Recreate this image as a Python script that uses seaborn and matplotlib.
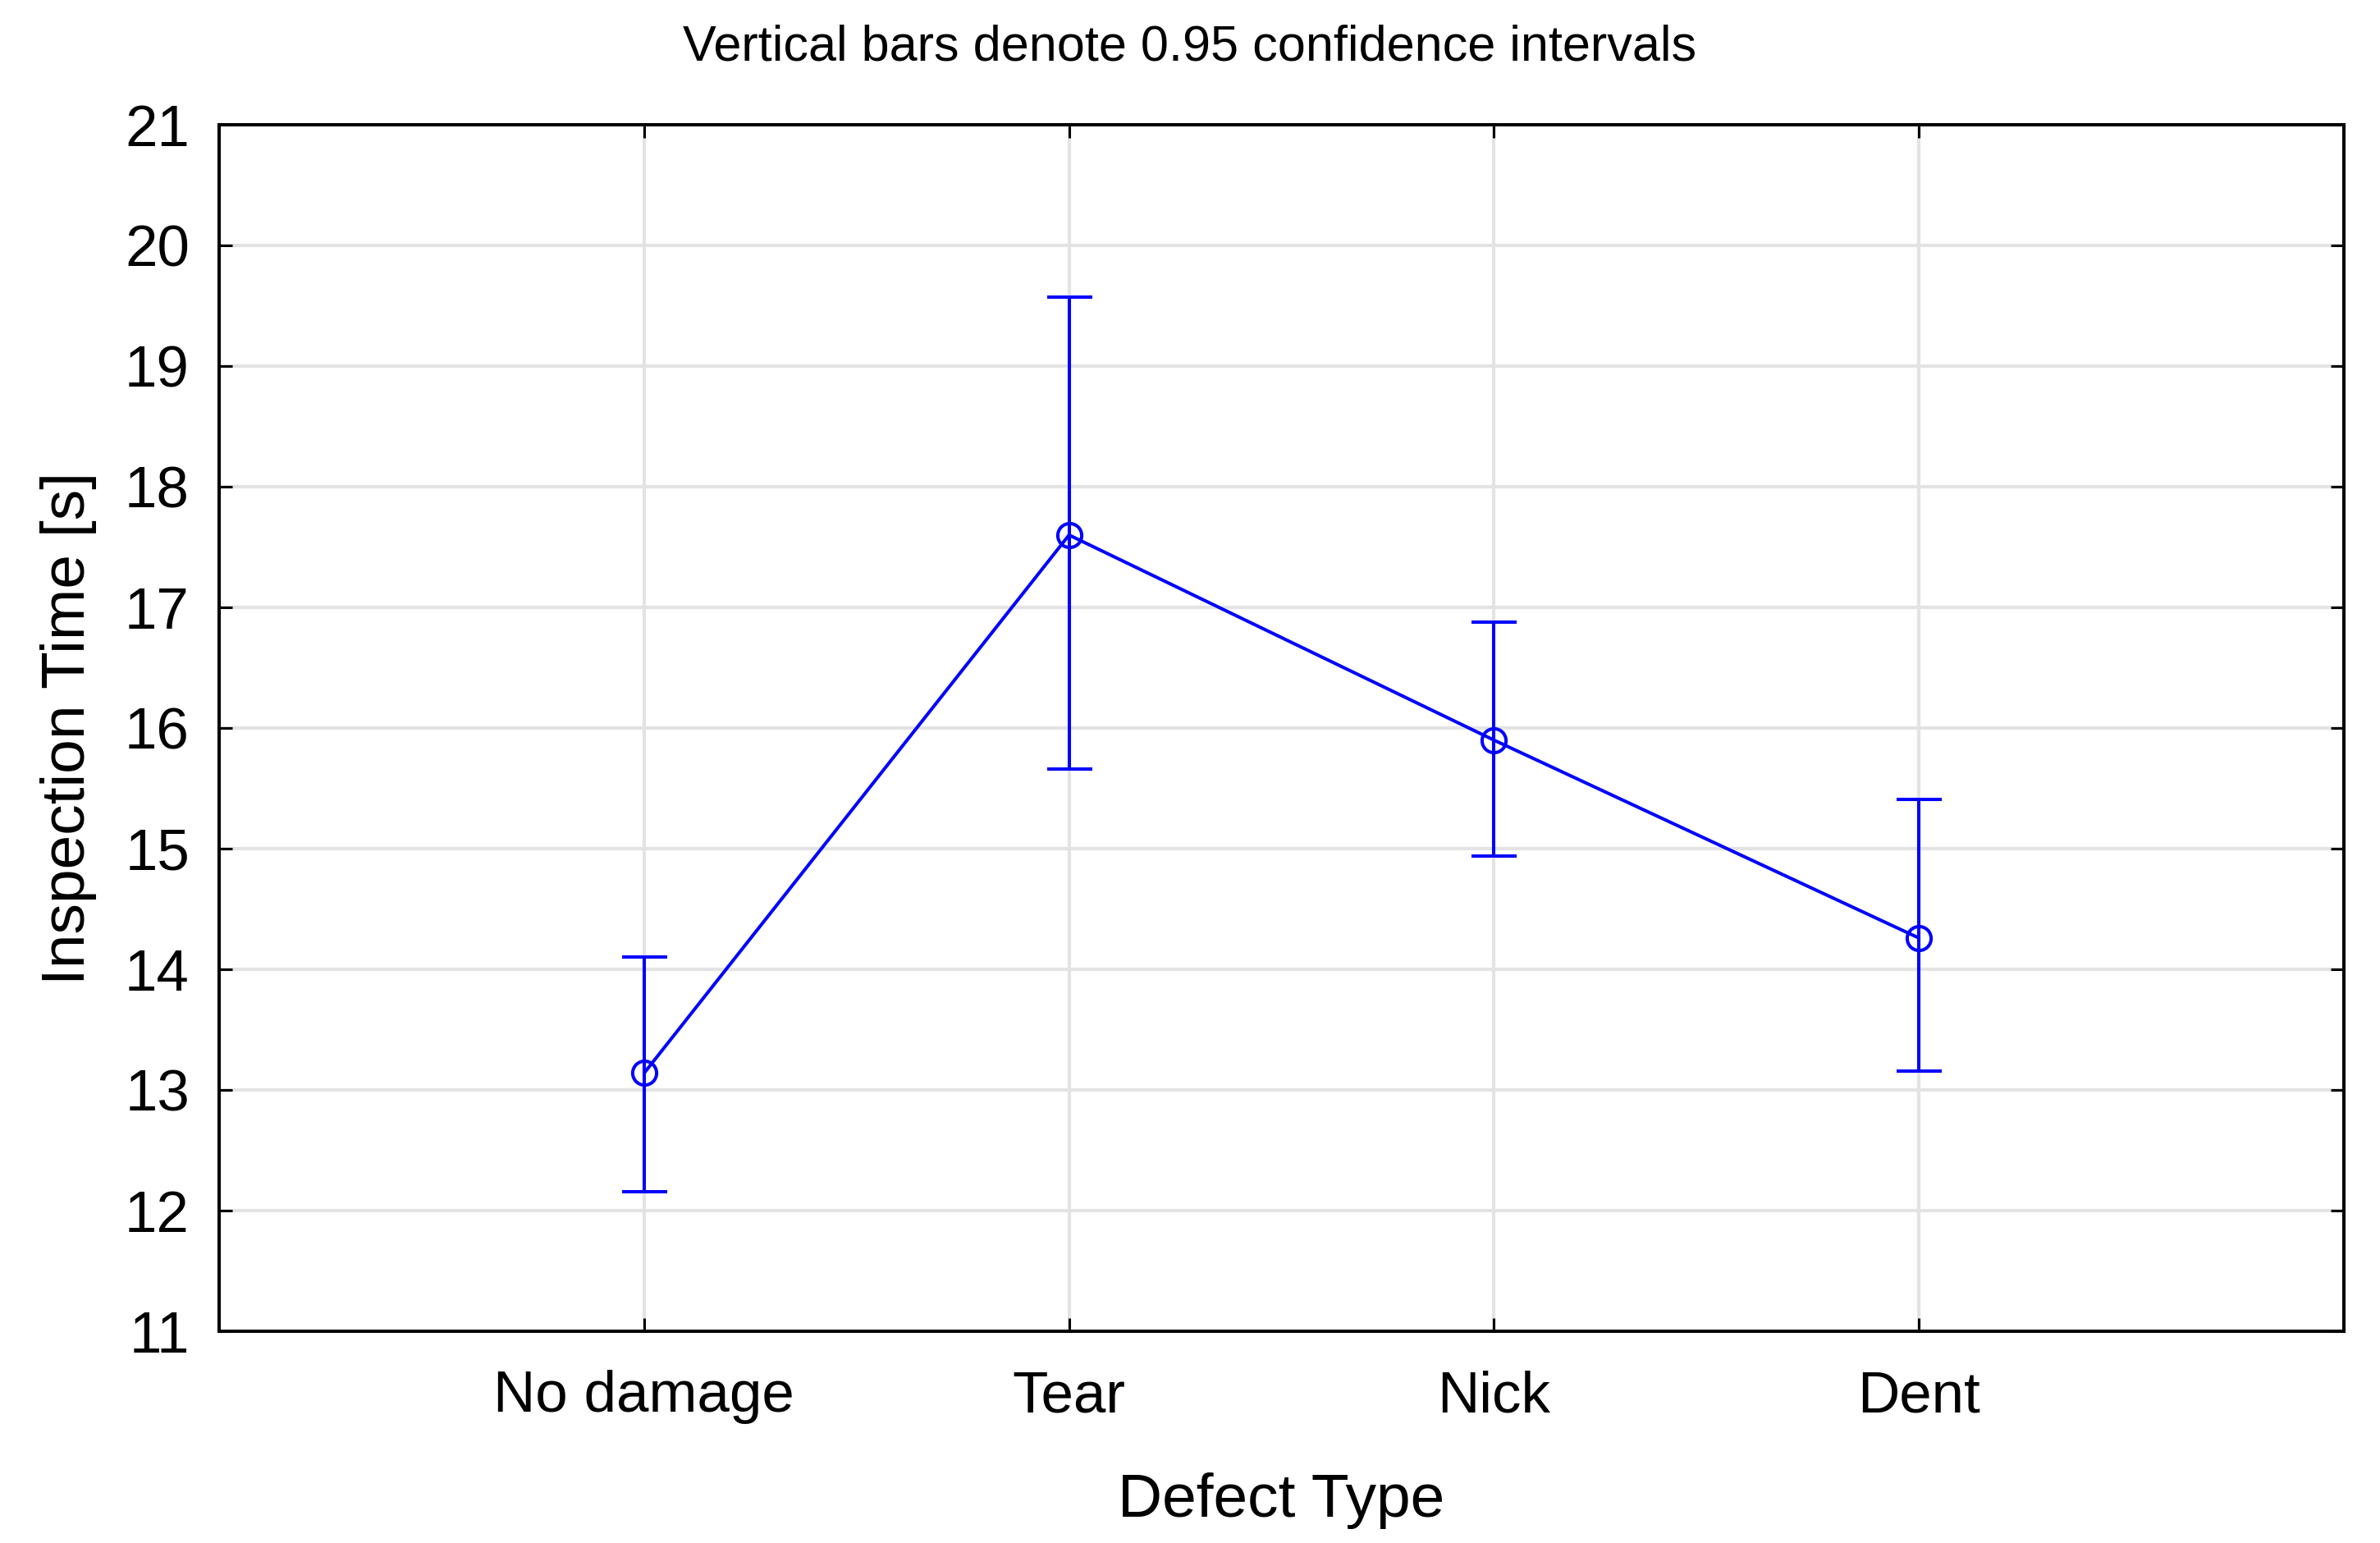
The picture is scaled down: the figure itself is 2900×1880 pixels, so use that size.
import numpy as np
import pandas as pd
import matplotlib
matplotlib.use("Agg")
import matplotlib.pyplot as plt
import seaborn as sns

# ---- data ----
categories = ["No damage", "Tear", "Nick", "Dent"]
means = [13.14, 17.60, 15.90, 14.26]
ci_lower = [12.16, 15.66, 14.94, 13.16]
ci_upper = [14.10, 19.57, 16.88, 15.41]
y_ticks = list(range(11, 22))

title_text = "Vertical bars denote 0.95 confidence intervals"
x_label = "Defect Type"
y_label = "Inspection Time [s]"

sns.set_style("white")
plt.rcParams["font.family"] = ["Liberation Sans", "DejaVu Sans"]

df = pd.DataFrame({"Defect Type": categories, "Inspection Time": means})

fig = plt.figure(figsize=(14.5, 9.4), dpi=200)
ax = fig.add_axes([0.0921, 0.1372, 0.8927, 0.7819])

blue = "#0000ff"
lw = 1.45

sns.pointplot(data=df, x="Defect Type", y="Inspection Time", order=categories,
              color=blue, markers="o", errorbar=None, ax=ax,
              markersize=10.5, linewidth=lw, markeredgewidth=lw)
for ln in ax.lines:
    ln.set_markerfacecolor("none")
    ln.set_zorder(3)

m = np.array(means)
lo = np.array(ci_lower)
hi = np.array(ci_upper)
ax.errorbar(np.arange(len(categories)), m, yerr=[m - lo, hi - m], fmt="none",
            ecolor=blue, elinewidth=lw, capsize=9.9, capthick=lw, zorder=3)

ax.set_xlim(-1, len(categories))
ax.set_ylim(y_ticks[0], y_ticks[-1])
ax.set_yticks(y_ticks)
ax.set_xticks(range(len(categories)))
ax.set_xticklabels(categories)

ax.grid(True, color="#e3e3e3", linewidth=1.5, zorder=0)
ax.set_axisbelow(True)

for s in ax.spines.values():
    s.set_visible(True)
    s.set_color("black")
    s.set_linewidth(1.45)

ax.tick_params(direction="in", length=5.8, width=1.1, color="black",
               top=True, right=True, bottom=True, left=True,
               labeltop=False, labelright=False,
               labelsize=25.5, labelcolor="black")
ax.tick_params(axis="y", pad=13)
ax.tick_params(axis="x", pad=17)

ax.set_xlabel(x_label, fontsize=27, color="black")
ax.set_ylabel(y_label, fontsize=27, color="black")
ax.xaxis.set_label_coords(0.5, -0.117)
ax.yaxis.set_label_coords(-0.0576, 0.5)

fig.text(0.5, 1 - 73 / 1880, title_text, ha="center", va="baseline",
         fontsize=22, color="black")

fig.savefig("out.png", dpi=200, facecolor="white")
